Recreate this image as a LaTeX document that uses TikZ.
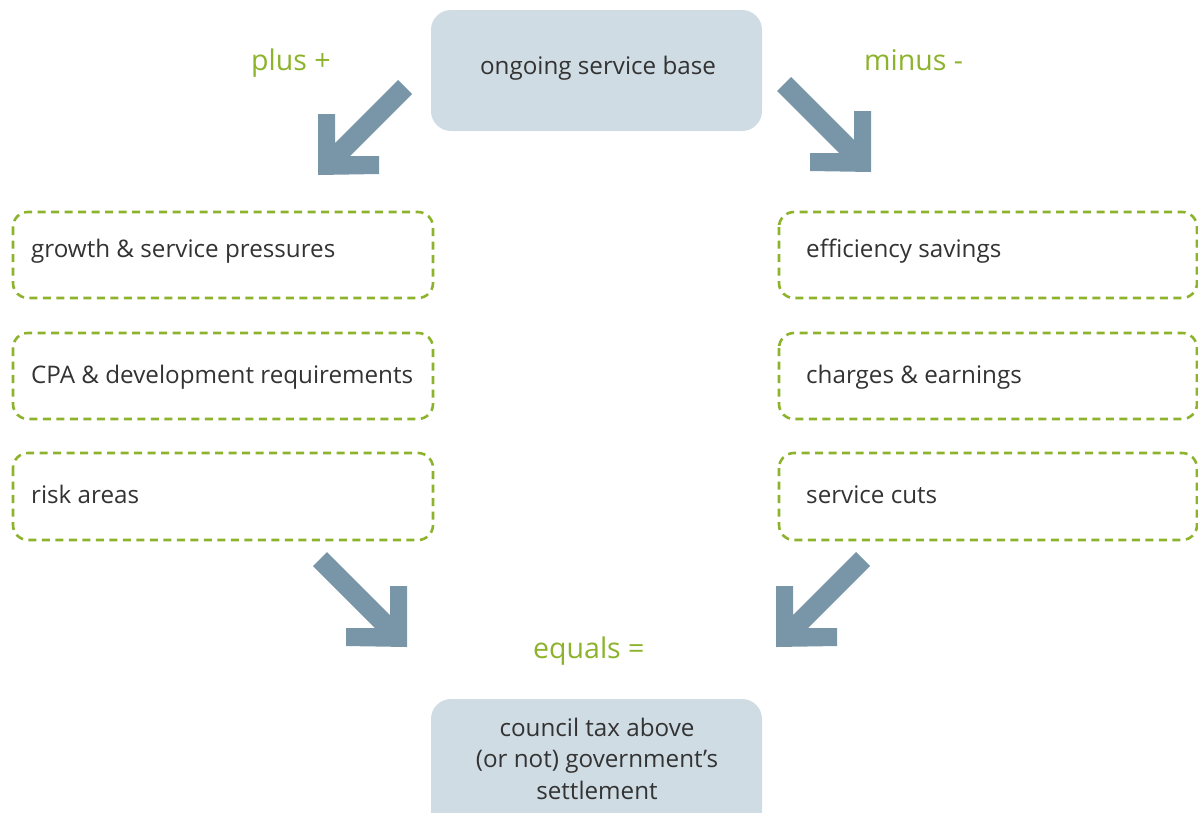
\documentclass[tikz,border=0pt]{standalone}
\usepackage{fontspec}
\setmainfont{Open Sans}
\definecolor{boxfill}{HTML}{CFDCE4}
\definecolor{arrowc}{HTML}{7896A8}
\definecolor{greenc}{HTML}{8DB32D}
\definecolor{textc}{HTML}{333333}
\begin{document}
\begin{tikzpicture}[x=1pt,y=-1pt,
  solidbox/.style={fill=boxfill,draw=none,rounded corners=20pt},
  dashbox/.style={draw=greenc,line width=2.6pt,dash pattern=on 8pt off 5.5pt,rounded corners=15pt},
  txt/.style={text=textc,font=\fontsize{24.2}{31.5}\selectfont,inner sep=0pt},
  gtxt/.style={text=greenc,font=\fontsize{28.5}{32}\selectfont,inner sep=0pt},
  bigarrow/.style={fill=arrowc,draw=none}]
\useasboundingbox (0,0) rectangle (1198,812);
\begin{scope}
\clip (0,0) rectangle (1198,812);
% solid boxes
\path[solidbox] (431,10) rectangle (762,131);
\node[txt,anchor=base] (base) at (598,74) {ongoing service base};
\path[solidbox] (431,699) rectangle (762,840);
\node[txt,anchor=base,align=center] (result) at (597,799) {council tax above\\(or not) government’s\\settlement};
% dashed boxes
\draw[dashbox] (13,212) rectangle (433,298);
\draw[dashbox] (13,333) rectangle (433,419);
\draw[dashbox] (13,453) rectangle (433,540);
\draw[dashbox] (779,212) rectangle (1197,298);
\draw[dashbox] (779,333) rectangle (1197,419);
\draw[dashbox] (779,453) rectangle (1197,540);
\end{scope}
\node[txt,anchor=base west] (l1) at (31,257) {growth \& service pressures};
\node[txt,anchor=base west] (l2) at (31,383) {CPA \& development requirements};
\node[txt,anchor=base west] (l3) at (31,503) {risk areas};
\node[txt,anchor=base west] (r1) at (806,257) {efficiency savings};
\node[txt,anchor=base west] (r2) at (806,383) {charges \& earnings};
\node[txt,anchor=base west] (r3) at (806,503) {service cuts};
% green labels
\node[gtxt,anchor=base west] (plus) at (251,70) {plus +};
\node[gtxt,anchor=base west] (minus) at (864,70) {minus -};
\node[gtxt,anchor=base west] (equals) at (533,658) {equals =};
% arrows: corner-based L-head arrows
\foreach \cx/\cy/\sx/\sy in {318/175/1/1, 871/172/-1/1, 407/647/-1/1, 776/647/1/1}{
  \fill[bigarrow] (\cx,\cy) -- ++(0,-61) -- ++(\sx*17,0) -- ++(0,29) -- ++(\sx*63,-63)
    -- ++(\sx*14,14) -- ++(\sx*-62,62) -- ++(\sx*29,0) -- ++(0,18) -- cycle;
}
\end{tikzpicture}
\end{document}
